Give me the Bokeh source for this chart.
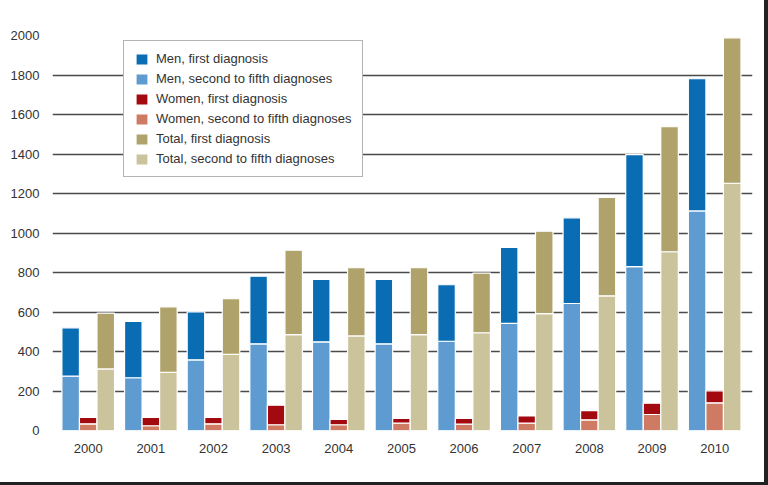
from bokeh.plotting import figure
from bokeh.models import ColumnDataSource, Legend, LegendItem, FixedTicker, Range1d
from bokeh.transform import dodge
from bokeh.embed import file_html
from bokeh.resources import INLINE

years = ["2000", "2001", "2002", "2003", "2004", "2005", "2006", "2007", "2008", "2009", "2010"]
men_second = [275, 267, 358, 439, 449, 439, 452, 542, 643, 830, 1112]
men_first = [245, 286, 243, 342, 316, 326, 286, 385, 434, 567, 669]
women_second = [34, 24, 34, 29, 29, 37, 32, 37, 54, 81, 140]
women_first = [32, 42, 32, 99, 27, 24, 29, 37, 47, 57, 61]
total_second = [312, 294, 385, 485, 479, 485, 495, 592, 682, 905, 1252]
total_first = [282, 332, 282, 428, 345, 339, 302, 417, 498, 633, 736]
y_ticks = [0, 200, 400, 600, 800, 1000, 1200, 1400, 1600, 1800, 2000]

FONT = "Liberation Sans"
C_MEN1, C_MEN2 = "#0a6db3", "#5d9bd1"
C_WOM1, C_WOM2 = "#a30a10", "#cf7a63"
C_TOT1, C_TOT2 = "#afa36b", "#cbc39b"

src = ColumnDataSource(dict(
    x=list(range(len(years))),
    men_second=men_second, men_first=men_first,
    women_second=women_second, women_first=women_first,
    total_second=total_second, total_first=total_first,
))

p = figure(width=768, height=485, output_backend="svg", toolbar_location=None,
           x_range=Range1d(-0.570, 10.604), y_range=Range1d(0, 2000),
           min_border_left=52, min_border_right=16, min_border_top=35, min_border_bottom=55)
p.outline_line_color = None
p.background_fill_color = "white"
p.border_fill_color = "white"
p.styles = {"border-right": "4px solid #222222", "border-bottom": "3px solid #222222"}

W = 0.28
r_men = p.vbar_stack(["men_second", "men_first"], x=dodge("x", -W, range=p.x_range), width=W,
                     color=[C_MEN2, C_MEN1], line_color="white", line_width=1.2, source=src)
r_wom = p.vbar_stack(["women_second", "women_first"], x=dodge("x", 0, range=p.x_range), width=W,
                     color=[C_WOM2, C_WOM1], line_color="white", line_width=1.2, source=src)
r_tot = p.vbar_stack(["total_second", "total_first"], x=dodge("x", W, range=p.x_range), width=W,
                     color=[C_TOT2, C_TOT1], line_color="white", line_width=1.2, source=src)

# axes
p.yaxis.ticker = FixedTicker(ticks=y_ticks)
p.xaxis.ticker = FixedTicker(ticks=list(range(len(years))))
p.xaxis.major_label_overrides = {i: y for i, y in enumerate(years)}
for ax in (p.xaxis[0], p.yaxis[0]):
    ax.axis_line_color = None
    ax.major_tick_line_color = None
    ax.minor_tick_line_color = None
    ax.major_label_text_font = FONT
    ax.major_label_text_font_size = "13px"
    ax.major_label_text_color = "#333333"
p.yaxis.major_label_standoff = 7
p.xaxis.major_label_standoff = 7

p.xgrid.grid_line_color = None
p.ygrid.ticker = FixedTicker(ticks=y_ticks)
p.ygrid.grid_line_color = "#4a4a4a"
p.ygrid.grid_line_width = 1.3

items = [
    LegendItem(label="Men, first diagnosis", renderers=[r_men[1]]),
    LegendItem(label="Men, second to fifth diagnoses", renderers=[r_men[0]]),
    LegendItem(label="Women, first diagnosis", renderers=[r_wom[1]]),
    LegendItem(label="Women, second to fifth diagnoses", renderers=[r_wom[0]]),
    LegendItem(label="Total, first diagnosis", renderers=[r_tot[1]]),
    LegendItem(label="Total, second to fifth diagnoses", renderers=[r_tot[0]]),
]
legend = Legend(items=items, location=(71, 253), glyph_width=15, glyph_height=14,
                label_height=14, spacing=5, padding=10, margin=0, label_standoff=7,
                label_text_font=FONT, label_text_font_size="13px", label_text_color="#333333",
                border_line_color="#6a6a6a", border_line_width=1.2,
                background_fill_color="white", background_fill_alpha=1)
p.add_layout(legend)

open("out.html", "w").write(file_html(p, INLINE))
